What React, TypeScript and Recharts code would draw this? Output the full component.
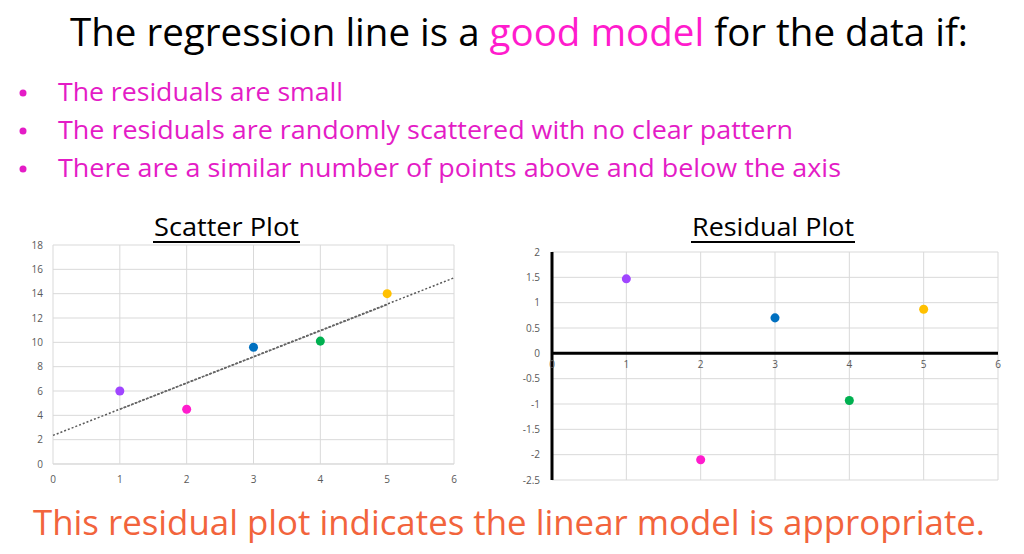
import React from 'react'
import {
  ScatterChart, Scatter, XAxis, YAxis, ZAxis, CartesianGrid, ReferenceLine, ReferenceDot, Cell,
} from 'recharts'

// scatter plot values
const XS = [1, 2, 3, 4, 5]
const YS = [6, 4.5, 9.6, 10.1, 14]
// residuals
const RESIDUALS = [1.47, -2.1, 0.7, -0.93, 0.87]
const POINT_COLORS = ['#a045ff', '#ff1ccd', '#0070c0', '#00b050', '#ffc000']

// trend line (dotted over 0..6, darker over 1..5)
const TREND_FULL = [{ x: 0, y: 2.35 }, { x: 6, y: 15.3 }]
const TREND_MID = [{ x: 1, y: 4.5 }, { x: 5, y: 13.1 }]

const X_TICKS = [0, 1, 2, 3, 4, 5, 6]
const SCATTER_Y_TICKS = [0, 2, 4, 6, 8, 10, 12, 14, 16, 18]
const RESID_Y_TICKS = [-2.5, -2, -1.5, -1, -0.5, 0, 0.5, 1, 1.5, 2]

const BULLETS = [
  'The residuals are small',
  'The residuals are randomly scattered with no clear pattern',
  'There are a similar number of points above and below the axis',
]
const BULLET_WIDTHS = [285, 735, 783]

const FONT = '"Open Sans", "Noto Sans", sans-serif'
const TICK = { fontSize: 10, fill: '#595959', fontFamily: FONT }
const MAGENTA = '#e41cc6'

const scatterData = XS.map((x, i) => ({ x, y: YS[i] }))
const residData = XS.map((x, i) => ({ x, y: RESIDUALS[i] }))

export default function App() {
  return (
    <div style={{ position: 'fixed', left: 0, top: 0, width: 1024, height: 554, background: '#fff', overflow: 'hidden' }}>
      <svg width={1024} height={554} style={{ position: 'absolute', left: 0, top: 0 }} fontFamily={FONT}>
        <text x={70} y={46} fontSize={38} textLength={898} lengthAdjust="spacingAndGlyphs" fill="#000">
          The regression line is a <tspan fill="#ff1ccd">good model</tspan> for the data if:
        </text>
        {BULLETS.map((b, i) => (
          <g key={b}>
            <circle cx={23} cy={93 + i * 38} r={3.5} fill={MAGENTA} />
            <text x={58} y={101 + i * 38} fontSize={26} textLength={BULLET_WIDTHS[i]} lengthAdjust="spacingAndGlyphs" fill={MAGENTA}>
              {b}
            </text>
          </g>
        ))}
        <text x={154} y={236} fontSize={26} textLength={145} lengthAdjust="spacingAndGlyphs" fill="#000">Scatter Plot</text>
        <line x1={153} x2={300} y1={242} y2={242} stroke="#000" strokeWidth={2} />
        <text x={692} y={236} fontSize={26} textLength={162} lengthAdjust="spacingAndGlyphs" fill="#000">Residual Plot</text>
        <line x1={691} x2={855} y1={242} y2={242} stroke="#000" strokeWidth={2} />
        <text x={33} y={535} fontSize={34} textLength={952} lengthAdjust="spacingAndGlyphs" fill="#f2643c">
          This residual plot indicates the linear model is appropriate.
        </text>
      </svg>

      <div style={{ position: 'absolute', left: 10, top: 235 }}>
        <ScatterChart width={470} height={254} margin={{ top: 10, right: 26, bottom: 5, left: 13 }}>
          <CartesianGrid stroke="#d9d9d9" />
          <XAxis type="number" dataKey="x" domain={[0, 6]} ticks={X_TICKS} axisLine={{ stroke: '#d9d9d9' }} tickLine={false} tick={TICK} height={20} tickMargin={6} />
          <YAxis type="number" dataKey="y" domain={[0, 18]} ticks={SCATTER_Y_TICKS} axisLine={false} tickLine={false} tick={TICK} width={30} tickMargin={4} />
          <ZAxis range={[120, 120]} />
          <ReferenceLine segment={TREND_FULL} stroke="#595959" strokeWidth={1.5} strokeDasharray="2 2" />
          <ReferenceLine segment={TREND_MID} stroke="#666" strokeWidth={1.5} strokeDasharray="3 1" />
          <Scatter data={scatterData} isAnimationActive={false}>
            {scatterData.map((d, i) => <Cell key={d.x} fill={POINT_COLORS[i]} />)}
          </Scatter>
        </ScatterChart>
      </div>

      <div style={{ position: 'absolute', left: 510, top: 242 }}>
        <ScatterChart width={500} height={248} margin={{ top: 10, right: 12, bottom: 10, left: 10 }}>
          <CartesianGrid stroke="#d9d9d9" />
          <XAxis type="number" dataKey="x" domain={[0, 6]} ticks={X_TICKS} hide />
          <YAxis type="number" dataKey="y" domain={[-2.5, 2]} ticks={RESID_Y_TICKS} axisLine={{ stroke: '#000', strokeWidth: 3 }} tickLine={false} tick={TICK} width={32} tickMargin={6} />
          <ZAxis range={[120, 120]} />
          <ReferenceLine y={0} stroke="#000" strokeWidth={3} />
          {X_TICKS.map(t => (
            <ReferenceDot key={t} x={t} y={0} r={0} stroke="none" label={{ value: String(t), position: 'bottom', offset: 8, ...TICK }} />
          ))}
          <Scatter data={residData} isAnimationActive={false}>
            {residData.map((d, i) => <Cell key={d.x} fill={POINT_COLORS[i]} />)}
          </Scatter>
        </ScatterChart>
      </div>
    </div>
  )
}
